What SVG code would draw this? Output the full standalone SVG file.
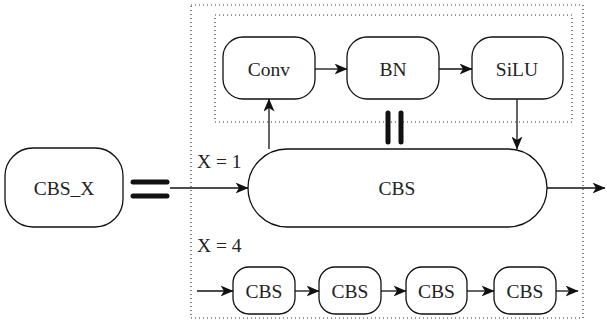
<svg xmlns="http://www.w3.org/2000/svg" width="607" height="326" viewBox="0 0 607 326">
  <defs>
    <marker id="arrow" viewBox="0 0 13 11" refX="12.5" refY="5.5" markerWidth="13" markerHeight="11" markerUnits="userSpaceOnUse" orient="auto">
      <path d="M0,0 L13,5.5 L0,11 L3.5,5.5 Z" fill="#111"/>
    </marker>
  </defs>
  <style>
    .node { fill: #fff; stroke: #111; stroke-width: 1.3; }
    .frame { fill: none; stroke: #333; stroke-width: 1.2; stroke-dasharray: 1 3; }
    .edge { fill: none; stroke: #111; stroke-width: 1.3; marker-end: url(#arrow); }
    .bar { stroke: #111; stroke-width: 5; stroke-linecap: round; }
    .t { font-family: "Liberation Serif", "Times New Roman", serif; font-size: 19.5px; fill: #222; }
    .lbl { text-anchor: middle; dominant-baseline: central; }
  </style>

  <!-- dotted frames -->
  <rect class="frame" x="191" y="5" width="392" height="313"/>
  <rect class="frame" x="215" y="15" width="357" height="107"/>

  <!-- equivalence bars -->
  <line class="bar" x1="133" y1="182" x2="167" y2="182"/>
  <line class="bar" x1="133" y1="196" x2="167" y2="196"/>
  <line class="bar" x1="388" y1="113" x2="388" y2="142"/>
  <line class="bar" x1="401" y1="113" x2="401" y2="142"/>

  <g id="cbs_x">
    <rect class="node" x="5" y="148" width="118" height="79" rx="28"/>
    <text class="t lbl" x="64" y="188">CBS_X</text>
  </g>

  <g id="conv">
    <rect class="node" x="223" y="37" width="92" height="62" rx="20"/>
    <text class="t lbl" x="269" y="69">Conv</text>
  </g>
  <g id="bn">
    <rect class="node" x="347" y="37" width="92" height="62" rx="20"/>
    <text class="t lbl" x="393" y="69">BN</text>
  </g>
  <g id="silu">
    <rect class="node" x="472" y="37" width="91" height="62" rx="20"/>
    <text class="t lbl" x="517" y="69">SiLU</text>
  </g>

  <g id="cbs_main">
    <rect class="node" x="248" y="149" width="299" height="78" rx="39"/>
    <text class="t lbl" x="397" y="188">CBS</text>
  </g>

  <g id="cbs_1">
    <rect class="node" x="233" y="267" width="62" height="47" rx="16"/>
    <text class="t lbl" x="264" y="291">CBS</text>
  </g>
  <g id="cbs_2">
    <rect class="node" x="319" y="267" width="62" height="47" rx="16"/>
    <text class="t lbl" x="350" y="291">CBS</text>
  </g>
  <g id="cbs_3">
    <rect class="node" x="406" y="267" width="61" height="47" rx="16"/>
    <text class="t lbl" x="436.5" y="291">CBS</text>
  </g>
  <g id="cbs_4">
    <rect class="node" x="494" y="267" width="62" height="47" rx="16"/>
    <text class="t lbl" x="525" y="291">CBS</text>
  </g>

  <!-- labels -->
  <text class="t" x="197" y="168">X = 1</text>
  <text class="t" x="197" y="252">X = 4</text>

  <g id="connectors">
    <line class="edge" x1="170" y1="188" x2="248" y2="188"/>
    <line class="edge" x1="547" y1="188" x2="605" y2="188"/>
    <line class="edge" x1="269" y1="149" x2="269" y2="99"/>
    <line class="edge" x1="315" y1="69" x2="347" y2="69"/>
    <line class="edge" x1="439" y1="69" x2="472" y2="69"/>
    <line class="edge" x1="517" y1="99" x2="517" y2="149"/>
    <line class="edge" x1="197" y1="291" x2="233" y2="291"/>
    <line class="edge" x1="295" y1="291" x2="319" y2="291"/>
    <line class="edge" x1="381" y1="291" x2="406" y2="291"/>
    <line class="edge" x1="467" y1="291" x2="494" y2="291"/>
    <line class="edge" x1="556" y1="291" x2="578" y2="291"/>
  </g>
</svg>
